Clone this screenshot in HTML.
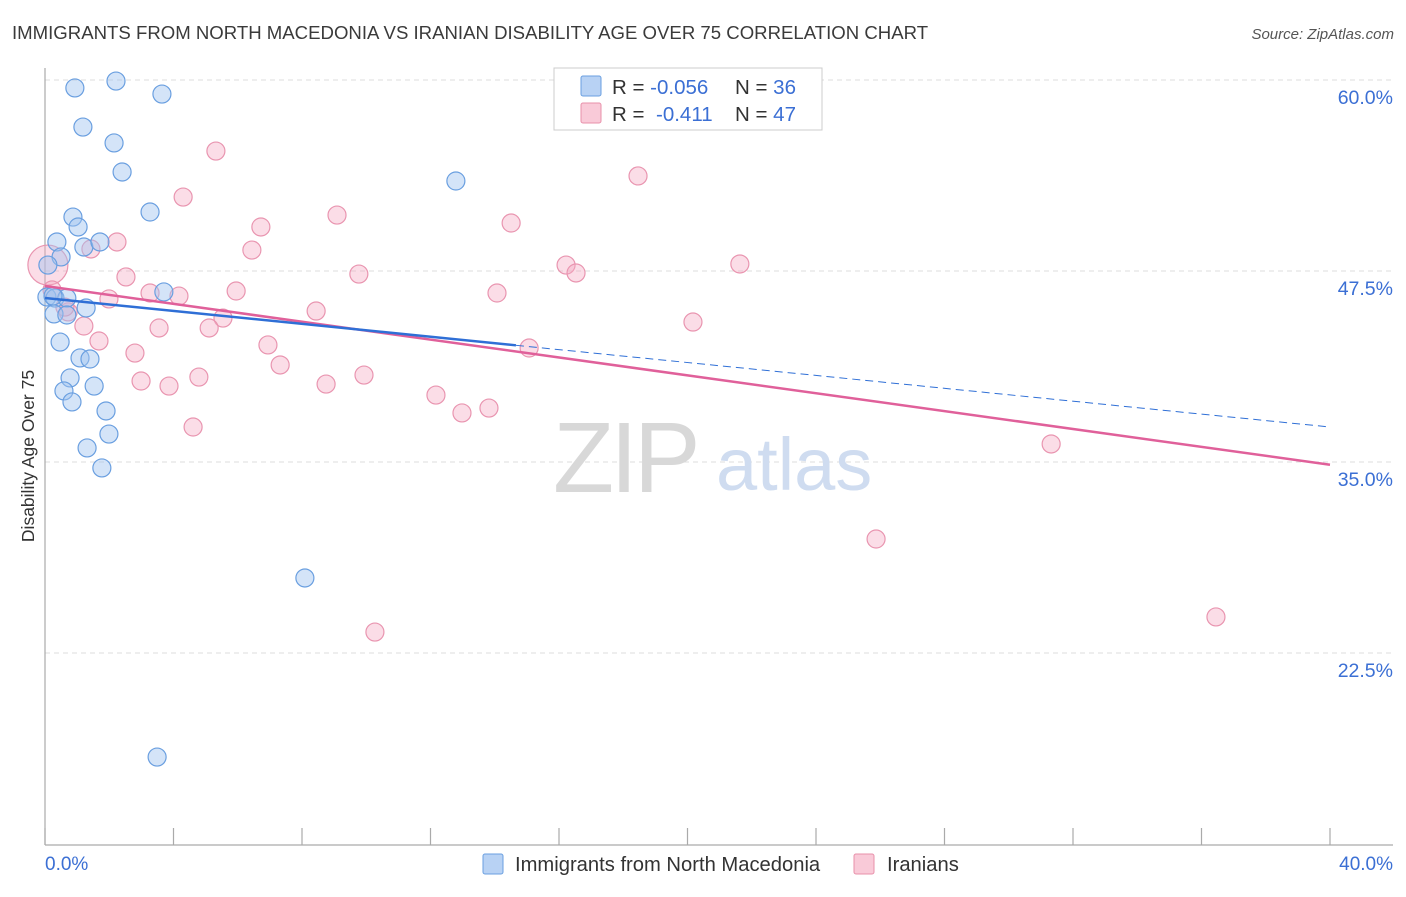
<!DOCTYPE html>
<html><head><meta charset="utf-8"><style>
body{margin:0;background:#fff;font-family:"Liberation Sans",sans-serif}
svg text{font-family:"Liberation Sans",sans-serif}
</style></head><body>
<svg id="c" width="1406" height="892" viewBox="0 0 1406 892" xmlns="http://www.w3.org/2000/svg">
<text x="12" y="39" font-size="18.6" fill="#3a3a3a">IMMIGRANTS FROM NORTH MACEDONIA VS IRANIAN DISABILITY AGE OVER 75 CORRELATION CHART</text>
<text x="1394" y="39" font-size="15" fill="#555" text-anchor="end" font-style="italic">Source: ZipAtlas.com</text>
<g id="grid"></g>
<g>
<text x="553" y="492" font-size="100" font-family="Liberation Serif" fill="#d8d8d8" letter-spacing="-4">ZIP</text>
<text x="716" y="490" font-size="74" fill="#cfdcf0">atlas</text>
</g>
<line x1="45" y1="68" x2="45" y2="845" stroke="#aaa" stroke-width="1.2"/>
<line x1="45" y1="845" x2="1393" y2="845" stroke="#aaa" stroke-width="1.2"/>
<g id="xticks"></g>
<g id="pts"></g>
<g id="lines"></g>
<text transform="translate(34,456) rotate(-90)" font-size="17.5" fill="#333" text-anchor="middle">Disability Age Over 75</text>
<text x="45" y="870" font-size="19" fill="#3b6fd4">0.0%</text>
<text x="1393" y="870" font-size="19" fill="#3b6fd4" text-anchor="end">40.0%</text>
<g>
<rect x="554" y="68" width="268" height="62" fill="#fff" stroke="#ccc"/>
<rect x="581" y="76" width="20" height="20" fill="#b8d2f4" stroke="#6a9fe0" rx="2"/>
<rect x="581" y="103" width="20" height="20" fill="#f9cad8" stroke="#e890aa" rx="2"/>
<text x="612" y="94" font-size="20.5" fill="#333">R = <tspan fill="#3b6fd4">-0.056</tspan><tspan x="735">N = </tspan><tspan fill="#3b6fd4">36</tspan></text>
<text x="612" y="121" font-size="20.5" fill="#333">R = <tspan x="656" fill="#3b6fd4">-0.411</tspan><tspan x="735">N = </tspan><tspan fill="#3b6fd4">47</tspan></text>
</g>
<g>
<rect x="483" y="854" width="20" height="20" fill="#b8d2f4" stroke="#6a9fe0" rx="2"/>
<text x="515" y="871" font-size="20.2" fill="#333">Immigrants from North Macedonia</text>
<rect x="854" y="854" width="20" height="20" fill="#f9cad8" stroke="#e890aa" rx="2"/>
<text x="887" y="871" font-size="20.2" fill="#333">Iranians</text>
</g>
</svg>
<script>
const yTicks=[60,47.5,35,22.5];
const yTickLabels=["60.0%","47.5%","35.0%","22.5%"];
const xTicks=[0,4,8,12,16,20,24,28,32,36,40];
const blueX=[2.21,0.93,3.64,1.18,2.15,2.40,12.79,3.27,0.87,1.03,0.37,1.21,1.71,0.50,0.09,0.06,0.31,0.68,1.28,3.70,0.28,0.68,0.47,1.09,1.40,0.78,0.59,1.53,0.84,1.90,1.99,1.31,1.77,8.09,3.49,0.25];
const blueY=[59.93,59.48,59.08,56.92,55.88,53.98,53.39,51.36,51.03,50.38,49.40,49.07,49.40,48.42,47.89,45.80,45.73,45.73,45.08,46.13,44.69,44.62,42.85,41.81,41.74,40.50,39.65,39.97,38.93,38.34,36.83,35.92,34.61,27.41,15.69,45.86];
const pinkX=[0.09,5.32,4.30,9.09,6.72,14.51,2.24,1.43,6.44,16.22,21.63,16.53,9.77,2.52,5.95,3.27,4.17,14.07,1.99,0.22,0.72,8.44,5.54,1.21,5.11,3.55,20.17,18.46,1.68,6.94,15.07,2.80,7.32,9.93,4.79,2.99,3.86,8.75,12.17,12.98,13.82,4.61,31.32,25.87,10.27,36.45,0.62];
const pinkY=[47.89,55.35,52.34,51.16,50.38,50.64,49.40,48.94,48.87,47.89,47.96,47.37,47.30,47.11,46.19,46.06,45.86,46.06,45.67,46.26,44.82,44.88,44.42,43.90,43.77,43.77,44.16,53.72,42.92,42.66,42.46,42.13,41.35,40.69,40.56,40.30,39.97,40.10,39.38,38.21,38.53,37.29,36.18,29.96,23.87,24.86,45.14];
const blueTrend=[45.73,37.29];
const blueSolidEnd=14.66;
const pinkTrend=[46.52,34.82];

const NS="http://www.w3.org/2000/svg";
const sx=v=>45+v*32.125;
const sy=v=>80+(60-v)*15.28;
function mk(tag,attrs,parent){const e=document.createElementNS(NS,tag);for(const k in attrs)e.setAttribute(k,attrs[k]);parent.appendChild(e);return e;}
const grid=document.getElementById('grid');
yTicks.forEach((t,i)=>{
  const l=mk('line',{x1:45,x2:1393,y1:sy(t),y2:sy(t),stroke:'#ddd','stroke-dasharray':'5,4'},grid);
  
  
  const tx=mk('text',{x:1393,y:sy(t)+24,'font-size':19.5,fill:'#3b6fd4','text-anchor':'end'},grid);
  tx.textContent=yTickLabels[i];
  
  
});
const xt=document.getElementById('xticks');
xTicks.forEach(t=>{
  const l=mk('line',{x1:sx(t),x2:sx(t),y1:828,y2:845,stroke:'#aaa','stroke-width':1.2},xt);
  
  
});
const pts=document.getElementById('pts');
pinkX.forEach((x,i)=>{
  const c=mk('circle',{cx:sx(x),cy:sy(pinkY[i]),r:i===0?20:9,fill:'rgba(245,170,195,0.4)',stroke:'#e995b0','stroke-width':1.2},pts);
  
  
});
blueX.forEach((x,i)=>{
  const c=mk('circle',{cx:sx(x),cy:sy(blueY[i]),r:9,fill:'rgba(160,196,240,0.45)',stroke:'#6a9fe0','stroke-width':1.2},pts);
  
  
});
const lines=document.getElementById('lines');
const bAt=v=>blueTrend[0]+(blueTrend[1]-blueTrend[0])*v/40;
let l1=mk('line',{x1:sx(0),y1:sy(pinkTrend[0]),x2:sx(40),y2:sy(pinkTrend[1]),stroke:'#e0609a','stroke-width':2.5},lines);


let l2=mk('line',{x1:sx(0),y1:sy(bAt(0)),x2:sx(blueSolidEnd),y2:sy(bAt(blueSolidEnd)),stroke:'#2f6fd6','stroke-width':2.5},lines);


let l3=mk('line',{x1:sx(blueSolidEnd),y1:sy(bAt(blueSolidEnd)),x2:sx(40),y2:sy(bAt(40)),stroke:'#2f6fd6','stroke-width':1,'stroke-dasharray':'8,5'},lines);


</script>
</body></html>
